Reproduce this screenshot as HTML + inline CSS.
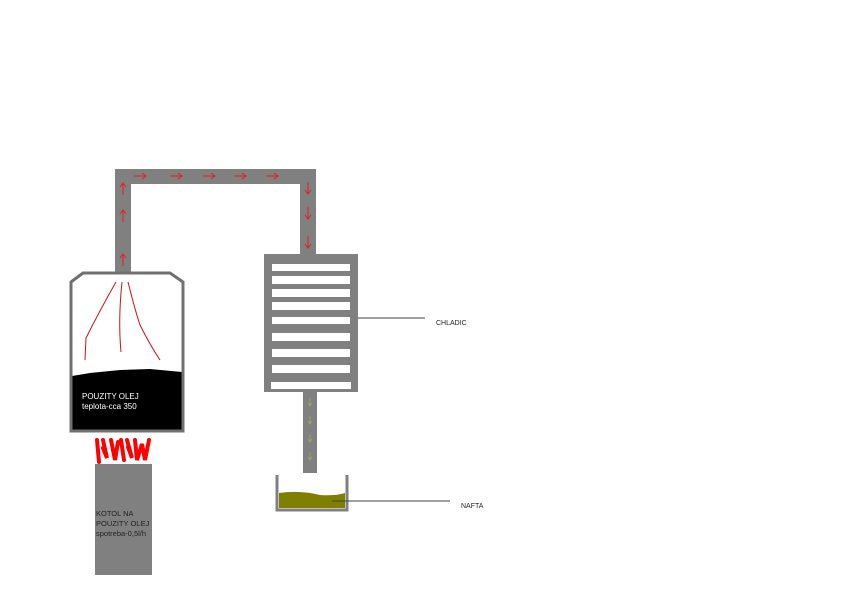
<!DOCTYPE html>
<html><head><style>
body{margin:0;width:850px;height:605px;background:#fff;overflow:hidden;font-family:"Liberation Sans",sans-serif}
</style></head><body>
<svg width="850" height="605" xmlns="http://www.w3.org/2000/svg" style="position:absolute;left:0;top:0">
<g fill="#808080">
<rect x="115" y="169" width="16" height="105"/>
<rect x="115" y="169" width="201" height="15"/>
<rect x="300" y="169" width="16" height="87"/>
<rect x="264" y="254" width="94" height="138"/>
<rect x="303" y="390" width="14" height="83"/>
<rect x="95" y="464" width="57" height="111"/>
</g>
<g fill="#fff">
<rect x="272" y="264" width="78" height="7"/>
<rect x="272" y="276" width="78" height="8"/>
<rect x="272" y="289" width="78" height="8"/>
<rect x="272" y="302" width="78" height="8"/>
<rect x="272" y="317" width="78" height="7"/>
<rect x="272" y="333" width="78" height="8"/>
<rect x="272" y="349" width="78" height="8"/>
<rect x="272" y="365" width="78" height="8"/>
<rect x="271" y="382" width="80" height="7"/>
</g>
<path d="M72,282 L83,273 L170,273 L182,282 L182,372 L150,369 L120,370 L90,373 L72,376 Z" fill="#fff"/>
<path d="M72,376 L90,373 L120,370 L150,369 L182,372 L182,430 L72,430 Z" fill="#000"/>
<path d="M71,282 L83,273 L170,273 L183,282 L183,431 L71,431 Z" fill="none" stroke="#707070" stroke-width="3"/>
<g stroke="#d01010" fill="none" stroke-width="1">
<path d="M116,282 Q100,310 86,338 L85,360"/>
<path d="M122,282 Q118,320 121,352"/>
<path d="M128,282 Q135,310 140,325 Q150,345 160,360"/>
</g>
<g stroke="#ff0000" stroke-width="4" fill="none" stroke-linecap="round">
<path d="M97,440 L99,462 M103,440 L107,458 L103,448 M111,440 L115,460 L118,442 M121,440 L124,460 M127,440 L132,458 L128,447 M135,440 L137,460 L142,444 L145,460 L149,440"/>
</g>
<g stroke="#808080" stroke-width="3" fill="none">
<path d="M277,475 L277,510 L347,510 L347,475"/>
</g>
<path d="M279,493 Q300,490 320,495 Q335,496 345,493 L345,508 L279,508 Z" fill="#808000"/>
<g stroke="#404040" stroke-width="1">
<line x1="358" y1="318" x2="425" y2="318"/>
<line x1="332" y1="501" x2="450" y2="501"/>
</g>
<g stroke="#e02020" stroke-width="1" fill="none">
<path d="M123,195 L123,183 M120,187 L123,183 L126,187"/>
<path d="M123,222 L123,210 M120,214 L123,210 L126,214"/>
<path d="M123,266 L123,254 M120,258 L123,254 L126,258"/>
<path d="M134,176 L146,176 M142,173 L146,176 L142,179"/>
<path d="M170,176 L182,176 M178,173 L182,176 L178,179"/>
<path d="M203,176 L215,176 M211,173 L215,176 L211,179"/>
<path d="M234,176 L246,176 M242,173 L246,176 L242,179"/>
<path d="M266,176 L278,176 M274,173 L278,176 L274,179"/>
<path d="M308,182 L308,194 M305,190 L308,194 L311,190"/>
<path d="M308,207 L308,219 M305,215 L308,219 L311,215"/>
<path d="M308,236 L308,248 M305,244 L308,248 L311,244"/>
</g>
<g stroke="#a0a060" stroke-width="1" fill="none">
<path d="M310,398 L310,406 M308,403 L310,406 L312,403"/>
<path d="M310,416 L310,424 M308,421 L310,424 L312,421"/>
<path d="M310,434 L310,442 M308,439 L310,442 L312,439"/>
<path d="M310,452 L310,460 M308,457 L310,460 L312,457"/>
</g>
<g font-size="8">
<text x="82" y="399" fill="#fff">POUZITY OLEJ</text>
<text x="82" y="409" fill="#fff">teplota-cca 350</text>
<text x="96" y="516" fill="#222" font-size="7.5">KOTOL NA</text>
<text x="96" y="526" fill="#222" font-size="7.5">POUZITY OLEJ</text>
<text x="96" y="536" fill="#222" font-size="7.5">spotreba-0,5l/h</text>
<text x="436" y="325" fill="#222" font-size="7">CHLADIC</text>
<text x="461" y="508" fill="#222" font-size="7">NAFTA</text>
</g>
</svg>
</body></html>
